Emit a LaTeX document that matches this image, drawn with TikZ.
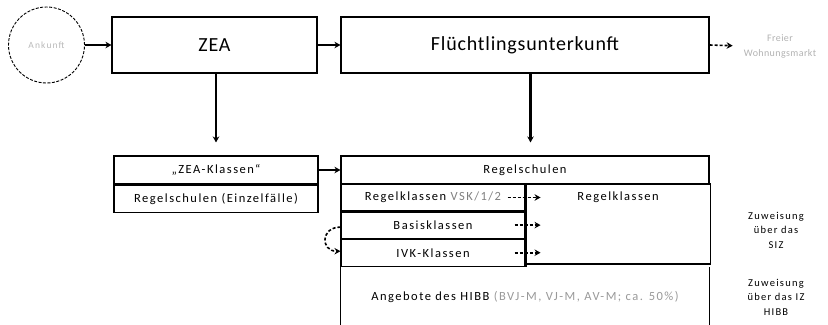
\documentclass[tikz,border=0pt]{standalone}
\usepackage{fontspec}
\setmainfont{Carlito}
\newfontfamily\lsfont[LetterSpace=12]{Carlito}
\newfontfamily\midfont[LetterSpace=4]{Carlito}
\usetikzlibrary{arrows.meta}
\begin{document}
\begin{tikzpicture}[x=1bp,y=-1bp,
  lbl/.style={inner sep=0pt, font=\fontsize{12.5bp}{15bp}\lsfont},
  box/.style={draw, line width=1.1bp, inner sep=0pt, font=\fontsize{12.5bp}{15bp}\lsfont},
  cell/.style={draw, line width=1.1bp, inner sep=0pt, font=\fontsize{12.5bp}{15bp}\lsfont},
  title/.style={font=\fontsize{20bp}{24bp}\midfont},
  side/.style={align=center, inner sep=0pt, font=\fontsize{10.5bp}{14.5bp}\lsfont},
  thickline/.style={line width=2.4bp},
  arr/.style={-{Stealth[length=6bp,width=6.5bp]}, line width=2.2bp},
  darr/.style={-{Stealth[length=6bp,width=6.5bp]}, line width=1.6bp, dash pattern=on 3bp off 2bp},
]
\useasboundingbox (0,0) rectangle (828,324);

% top row
\node[draw, circle, dash pattern=on 3bp off 1.5bp, line width=0.9bp, minimum size=76bp, inner sep=0pt,
      text=gray!55, font=\fontsize{9.5bp}{11bp}\lsfont] (ank) at (46.5,45) {Ankunft};
\node[box, title, minimum width=205bp, minimum height=56bp] (zea) at (214.5,45) {ZEA};
\node[box, title, minimum width=368bp, minimum height=56bp] (flu) at (525,45) {Flüchtlingsunterkunft};
\node[side, text=gray!60, font=\fontsize{10bp}{15bp}\midfont] (frei) at (780,46) {Freier\\Wohnungsmarkt};

% left boxes
\node[box, minimum width=204bp, minimum height=28bp] (zeak) at (216,170) {„ZEA-Klassen“};
\node[box, minimum width=204bp, minimum height=27bp, anchor=north] (einz) at (zeak.south) {Regelschulen (Einzelfälle)};

% right big box
\node[box, minimum width=368bp, minimum height=28bp] (rs) at (525,170) {Regelschulen};
\node[cell, minimum width=184bp, minimum height=27bp] (vsk) at (433,197.5) {Regelklassen \textcolor{gray}{VSK/1/2}\hspace{26bp}};
\node[cell, minimum width=184bp, minimum height=26bp, anchor=north] (basis) at (vsk.south) {Basisklassen};
\node[cell, minimum width=184bp, minimum height=27bp, anchor=north] (ivk) at (basis.south) {IVK-Klassen};
\node[cell, minimum width=184bp, minimum height=80bp, anchor=north west] (rk) at (vsk.north east) {};
\node[lbl] (rkt) at (rk.north |- vsk) {Regelklassen};
\node[lbl, minimum width=368bp, minimum height=60bp, anchor=north] (hibb) at (rs.south |- ivk.south)
  {Angebote des HIBB \textcolor{gray!80}{(BVJ-M, VJ-M, AV-M; ca. 50\%)}};
\draw[line width=1.1bp] (hibb.north west) -- (hibb.south west);
\draw[line width=1.1bp] (hibb.north east) -- (hibb.south east);
\draw[thickline] (vsk.south west) -- (vsk.south east);
\draw[thickline] (vsk.north east) -- (ivk.south east);

% side notes
\node[side] (siz) at (776,230) {Zuweisung\\über das\\SIZ};
\node[side] (izh) at (776,297) {Zuweisung\\über das IZ\\HIBB};

% connectors
\draw[arr] (ank) -- (zea);
\draw[arr] (zea) -- (flu);
\draw[darr, shorten >=11bp] (flu.east) -- (frei.west);
\draw[arr, line width=1.3bp, shorten >=13bp] (zeak.north |- zea.south) -- (zeak.north);
\draw[arr, line width=2.8bp, shorten >=13bp] ([xshift=5.5bp]flu.south) -- ([xshift=5.5bp]rs.north);
\draw[arr] (zeak) -- (rs);
\draw[darr] ([xshift=-18bp]vsk.east) -- ([xshift=15bp]vsk.east);
\draw[darr] ([xshift=-11bp]basis.east) -- ([xshift=15bp]basis.east);
\draw[darr] ([xshift=-11bp]ivk.east) -- ([xshift=15bp]ivk.east);
\draw[darr] ([yshift=-2bp]basis.west) .. controls +(-20bp,0) and +(-20bp,0) .. ([yshift=1.5bp]ivk.west);
\end{tikzpicture}
\end{document}
